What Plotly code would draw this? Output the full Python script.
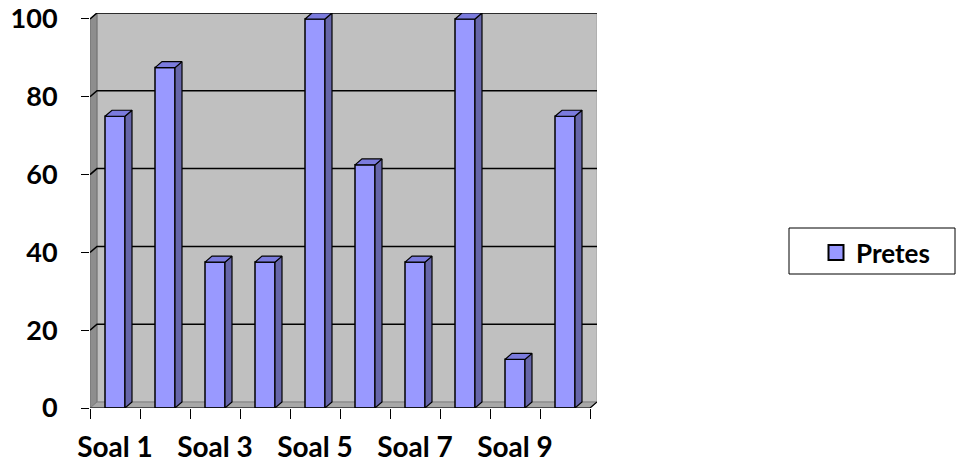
import plotly.graph_objects as go

# Scores per question (percent)
categories = ["Soal 1", "Soal 2", "Soal 3", "Soal 4", "Soal 5",
              "Soal 6", "Soal 7", "Soal 8", "Soal 9", "Soal 10"]
pretes = [75, 87.5, 37.5, 37.5, 100, 62.5, 37.5, 100, 12.5, 75]
y_ticks = [0, 20, 40, 60, 80, 100]
series_name = "Pretes"

# Pseudo-3D geometry in axis units
W = 956
H = 466
ML, MT, MB = 90, 13, 58
DX = 0.14          # depth offset along x (category units)
DY = 1.54          # depth offset along y (value units)
BAR_W = 0.4
X0, X1 = -0.5, len(categories) - 0.5
Y_TOP = 100 + DY

FRONT = "#9999FF"
TOP = "#7B7BDD"
SIDE = "#6666AA"

xs = list(range(len(categories)))

fig = go.Figure()

# Bar front faces
fig.add_trace(go.Bar(
    x=xs, y=pretes, width=BAR_W, name=series_name, showlegend=False,
    marker=dict(color=FRONT, line=dict(color="black", width=1.5)),
    hoverinfo="skip",
))

# Bar side and top faces
for x, v in zip(xs, pretes):
    l, r = x - BAR_W / 2, x + BAR_W / 2
    fig.add_trace(go.Scatter(
        x=[r, r + DX, r + DX, r, r], y=[0, DY, v + DY, v, 0],
        mode="lines", fill="toself", fillcolor=SIDE,
        line=dict(color="black", width=1.2), showlegend=False, hoverinfo="skip",
    ))
    fig.add_trace(go.Scatter(
        x=[l, l + DX, r + DX, r, l], y=[v, v + DY, v + DY, v, v],
        mode="lines", fill="toself", fillcolor=TOP,
        line=dict(color="black", width=1.2), showlegend=False, hoverinfo="skip",
    ))

# Legend entry
fig.add_trace(go.Scatter(
    x=[None], y=[None], mode="markers", name=series_name,
    marker=dict(symbol="square", size=15, color=FRONT, line=dict(color="black", width=2)),
))

shapes = []
# Back wall
shapes.append(dict(type="rect", xref="x", yref="y", x0=X0 + DX, x1=X1 + DX, y0=DY, y1=Y_TOP,
                   fillcolor="#C0C0C0", line=dict(color="#A0A0A0", width=1), layer="below"))
# Left side wall
shapes.append(dict(type="path", xref="x", yref="y",
                   path=f"M{X0},0 L{X0},100 L{X0 + DX},{Y_TOP} L{X0 + DX},{DY} Z",
                   fillcolor="#8E8E8E", line=dict(color="#6E6E6E", width=1), layer="below"))
# Floor
shapes.append(dict(type="path", xref="x", yref="y",
                   path=f"M{X0},0 L{X1},0 L{X1 + DX},{DY} L{X0 + DX},{DY} Z",
                   fillcolor="#A8A8A8", line=dict(color="#808080", width=1), layer="below"))
# Gridlines along side wall and back wall
for v in y_ticks[1:]:
    shapes.append(dict(type="path", xref="x", yref="y",
                       path=f"M{X0},{v} L{X0 + DX},{v + DY} L{X1 + DX},{v + DY}",
                       line=dict(color="black", width=1.5), layer="below"))
# Front floor edge and right corner
shapes.append(dict(type="path", xref="x", yref="y",
                   path=f"M{X0},0 L{X1},0 L{X1 + DX},{DY}",
                   line=dict(color="black", width=1.2), layer="above"))

# Legend frame
def px_x(p):
    return (p - ML) / (597 - ML)

def px_y(p):
    return (408 - p) / (408 - MT)

shapes.append(dict(type="rect", xref="paper", yref="paper",
                   x0=px_x(789), x1=px_x(955), y0=px_y(274), y1=px_y(228),
                   line=dict(color="black", width=1), fillcolor="white", layer="below"))

font_family = "Lato, 'Open Sans', sans-serif"

fig.update_layout(
    width=W, height=H,
    margin=dict(l=ML, r=W - 597, t=MT, b=MB, autoexpand=False),
    paper_bgcolor="white", plot_bgcolor="white",
    shapes=shapes,
    showlegend=True,
    legend=dict(x=px_x(816), y=px_y(229), xanchor="left", yanchor="top",
                bgcolor="rgba(0,0,0,0)", borderwidth=0,
                font=dict(family=font_family, size=26, color="black", weight="bold")),
    xaxis=dict(
        range=[X0, X1 + DX], showgrid=False, zeroline=False, showline=False,
        automargin=False,
        tickmode="array", tickvals=xs[::2], ticktext=categories[::2], ticks="",
        tickfont=dict(family=font_family, size=28, color="black", weight="bold"),
        ticklabelstandoff=20,
        minor=dict(tickmode="array", tickvals=[x - 0.5 for x in xs] + [X1],
                   ticks="outside", ticklen=10, tickcolor="black", tickwidth=1, showgrid=False),
    ),
    yaxis=dict(
        range=[0, Y_TOP], showgrid=False, zeroline=False, showline=False,
        automargin=False,
        tickmode="array", tickvals=y_ticks, ticks="outside", ticklen=8,
        tickcolor="black", tickwidth=1,
        tickfont=dict(family=font_family, size=27, color="black", weight="bold"),
        ticklabelstandoff=18,
    ),
)

fig.write_html("out.html")
